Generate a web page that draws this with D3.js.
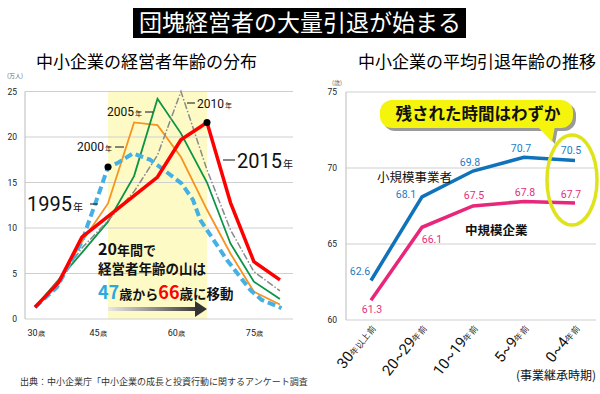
<!DOCTYPE html>
<html>
<head>
<meta charset="utf-8">
<script src="https://cdn.jsdelivr.net/npm/d3@7"></script>
<style>
body { margin: 0; background: #fff; }
svg { display: block; font-family: "Noto Sans CJK JP", "Noto Sans", sans-serif; }
</style>
</head>
<body>
<svg width="600" height="394"></svg>
<script>
// left chart: number of managers (万人) by age, [age, value]
const ageTicks = [30, 45, 60, 75]
const countTicks = [0, 5, 10, 15, 20, 25]
const dist1995 = [[33,1.3],[37.2,3.5],[42,8.5],[43.2,10.5],[45.5,14.2],[47,16.7],[48.7,17.1],[51.8,18.2],[55.1,17.5],[57,16.7],[61.1,14.9],[63.3,13.1],[64.7,10.9],[69.8,6.5],[74.3,3.2],[76.5,2.1],[80.3,1.2]]
const dist2000 = [[33,1.3],[37.5,4.0],[42,8.5],[47,12.7],[52,21.6],[56.5,21.3],[61,17.8],[66,12.0],[70.5,7.2],[75,3.0],[80,1.6]]
const dist2005 = [[33,1.3],[37.5,4.3],[42,7.3],[47,10.7],[52,15.7],[56.5,24.2],[61,20.4],[66,15.0],[70.5,8.3],[75,4.1],[80,2.2]]
const dist2010 = [[33,1.3],[37.5,4.2],[42,7.8],[47,10.8],[52,14.0],[56.5,18.0],[61,25.0],[66,16.4],[70.5,9.8],[75,5.2],[80,3.1]]
const dist2015 = [[33,1.3],[37.5,4.0],[42,9.0],[56.5,15.6],[61,19.7],[66,21.6],[70.5,12.8],[75,6.3],[80,4.3]]
const peakAges = [47, 66]

// right chart: average retirement age by period of succession
const periods = ["30年以上前", "20~29年前", "10~19年前", "5~9年前", "0~4年前"]
const retireTicks = [60, 65, 70, 75]
const smallBiz = [62.6, 68.1, 69.8, 70.7, 70.5]
const midBiz = [61.3, 66.1, 67.5, 67.8, 67.7]

var svg = d3.select('svg')

// title
svg.append('rect').attr('x', 133).attr('y', 8).attr('width', 333).attr('height', 30).attr('fill', '#000')
svg.append('text').attr('x', 300).attr('y', 31).attr('text-anchor', 'middle')
  .attr('fill', '#fff').attr('font-size', 23).text('団塊経営者の大量引退が始まる')

svg.append('text').attr('x', 36).attr('y', 68).attr('font-size', 17).text('中小企業の経営者年齢の分布')
svg.append('text').attr('x', 358).attr('y', 68).attr('font-size', 17).text('中小企業の平均引退年齢の推移')

// ---------- left chart ----------
const x = d3.scaleLinear().domain([47, 66]).range([108, 207])
const y = d3.scaleLinear().domain([0, 25]).range([319, 91.5])
const left = svg.append('g')

left.append('rect')
  .attr('x', x(47)).attr('y', y(25))
  .attr('width', x(66) - x(47)).attr('height', y(0) - y(25))
  .attr('fill', '#fdfac6')

left.selectAll('.grid').data(countTicks).enter()
  .append('line')
  .attr('x1', 25).attr('x2', 293)
  .attr('y1', d => y(d)).attr('y2', d => y(d))
  .attr('stroke', '#cfcfcf').attr('stroke-width', 1)

left.append('line').attr('x1', 25).attr('x2', 25).attr('y1', y(25)).attr('y2', y(0))
  .attr('stroke', '#bbb')

const yAxis = left.append('g').attr('transform', 'translate(25,0)')
  .call(d3.axisLeft(y).tickValues(countTicks).tickSize(0).tickPadding(8))
yAxis.select('.domain').remove()
yAxis.selectAll('text').attr('font-size', 8.5).attr('fill', '#222').attr('font-family', 'Roboto, "Noto Sans", sans-serif')

const xAxis = left.append('g').attr('transform', 'translate(0,319)')
  .call(d3.axisBottom(x).tickValues(ageTicks).tickSize(0).tickPadding(10).tickFormat(''))
xAxis.select('.domain').remove()
xAxis.selectAll('.tick text').each(function (d, i) {
  const t = d3.select(this)
  if (i === 0) t.attr('text-anchor', 'start').attr('x', 27 - x(30))
  t.append('tspan').attr('font-size', 9).attr('font-family', 'Roboto, sans-serif').text(d)
  t.append('tspan').attr('font-size', 7).text('歳')
}).attr('fill', '#222')

left.append('text').attr('x', 7).attr('y', 78).attr('font-size', 6).attr('fill', '#666').text('(万人)')

const line = d3.line().x(d => x(d[0])).y(d => y(d[1]))

left.append('path').datum(dist2000).attr('d', line)
  .attr('fill', 'none').attr('stroke', '#f7931e').attr('stroke-width', 1.8)
left.append('path').datum(dist2005).attr('d', line)
  .attr('fill', 'none').attr('stroke', '#0b9444').attr('stroke-width', 1.8)
left.append('path').datum(dist2010).attr('d', line)
  .attr('fill', 'none').attr('stroke', '#8a8a8a').attr('stroke-width', 1.5)
  .attr('stroke-dasharray', '7,2,1.5,2')
left.append('path').datum(dist1995).attr('d', line)
  .attr('fill', 'none').attr('stroke', '#45b0e4').attr('stroke-width', 4)
  .attr('stroke-dasharray', '8,4').attr('stroke-linejoin', 'round')
left.append('path').datum(dist2015).attr('d', line)
  .attr('fill', 'none').attr('stroke', '#ff0000').attr('stroke-width', 3.5)
  .attr('stroke-linejoin', 'round')

const peaks = [dist1995.find(d => d[0] === peakAges[0]), dist2015.find(d => d[0] === peakAges[1])]
left.selectAll('.peak').data(peaks).enter()
  .append('circle')
  .attr('cx', d => x(d[0])).attr('cy', d => y(d[1])).attr('r', 3.5)
  .attr('fill', '#000')

// year labels with leader lines
const yearLabel = (tx, ty, year, big, lx1, lx2, ly) => {
  const t = left.append('text').attr('x', tx).attr('y', ty).attr('fill', '#111')
  t.append('tspan').attr('font-size', big ? 20 : 12).attr('font-family', 'Roboto, "Noto Sans", sans-serif').text(year)
  t.append('tspan').attr('font-size', big ? 10 : 7).attr('dx', 1).text('年')
  left.append('line').attr('x1', lx1).attr('x2', lx2).attr('y1', ly).attr('y2', ly)
    .attr('stroke', '#111').attr('stroke-width', 1)
}
yearLabel(27, 211, '1995', true, 90, 98, 204)
yearLabel(77, 151, '2000', false, 115, 124, 147)
yearLabel(107, 116, '2005', false, 145, 153, 112)
yearLabel(197, 108, '2010', false, 187, 195, 103)
yearLabel(237, 168, '2015', true, 223, 235, 160)

// annotation
const note = left.append('text').attr('font-weight', 'bold').attr('fill', '#111')
note.append('tspan').attr('x', 98).attr('y', 255).attr('font-size', 16).text('20')
note.append('tspan').attr('font-size', 13).text('年間で')
left.append('text').attr('x', 98).attr('y', 274).attr('font-size', 13.5).attr('font-weight', 'bold')
  .attr('fill', '#111').text('経営者年齢の山は')
const note3 = left.append('text').attr('x', 98).attr('y', 299).attr('font-weight', 'bold').attr('fill', '#111')
note3.append('tspan').attr('font-size', 18).attr('fill', '#29a9e0').text('47')
note3.append('tspan').attr('font-size', 13).text('歳から')
note3.append('tspan').attr('font-size', 18).attr('fill', '#ff0000').text('66')
note3.append('tspan').attr('font-size', 13.5).text('歳に移動')

const defs = svg.append('defs')
const grad = defs.append('linearGradient').attr('id', 'arrowGrad')
grad.append('stop').attr('offset', '0%').attr('stop-color', '#e8e8e8')
grad.append('stop').attr('offset', '100%').attr('stop-color', '#333')
left.append('rect').attr('x', x(47)).attr('y', 307).attr('width', 92).attr('height', 4)
  .attr('fill', 'url(#arrowGrad)')
left.append('path').attr('d', `M${x(66) - 12},301 L${x(66)},309 L${x(66) - 12},317 Z`).attr('fill', '#333')

// ---------- right chart ----------
const xr = d3.scalePoint().domain(periods).range([371, 575])
const yr = d3.scaleLinear().domain([60, 75]).range([320, 92])
const right = svg.append('g')

right.selectAll('.grid').data(retireTicks).enter()
  .append('line')
  .attr('x1', 346).attr('x2', 596)
  .attr('y1', d => yr(d)).attr('y2', d => yr(d))
  .attr('stroke', '#cfcfcf')
right.append('line').attr('x1', 346).attr('x2', 346).attr('y1', yr(75)).attr('y2', yr(60))
  .attr('stroke', '#bbb')

const yrAxis = right.append('g').attr('transform', 'translate(346,0)')
  .call(d3.axisLeft(yr).tickValues(retireTicks).tickSize(0).tickPadding(9))
yrAxis.select('.domain').remove()
yrAxis.selectAll('text').attr('font-size', 8.5).attr('fill', '#222').attr('font-family', 'Roboto, "Noto Sans", sans-serif')
right.append('text').attr('x', 332).attr('y', 85).attr('font-size', 6).attr('fill', '#666').text('(歳)')

const xrAxis = right.append('g').attr('transform', 'translate(0,320)')
  .call(d3.axisBottom(xr).tickSize(0).tickFormat(''))
xrAxis.select('.domain').remove()
xrAxis.selectAll('.tick text').each(function (d) {
  const m = d.match(/^([\d~]+)(.*)$/)
  const t = d3.select(this)
    .attr('text-anchor', 'end').attr('x', 5).attr('y', 8).attr('dy', 0)
    .attr('transform', 'rotate(-52,5,8)').attr('fill', '#111')
  t.append('tspan').attr('font-size', 15).attr('font-family', 'Roboto, "Noto Sans", sans-serif').text(m[1])
  t.append('tspan').attr('font-size', 8.5).text(m[2])
})

const rline = d3.line().x((d, i) => xr(periods[i])).y(d => yr(d))
right.append('path').datum(smallBiz).attr('d', rline)
  .attr('fill', 'none').attr('stroke', '#0f72ba').attr('stroke-width', 3.5)
right.append('path').datum(midBiz).attr('d', rline)
  .attr('fill', 'none').attr('stroke', '#e8267a').attr('stroke-width', 3.5)

const blueOff = [[-11, -5], [-16, 1], [-3, -5], [-3, -5], [-4, -6]]
const pinkOff = [[1, 13], [10, 16], [1, -7], [1, -5], [-4, -5]]
right.selectAll('.sv').data(smallBiz).enter()
  .append('text')
  .attr('x', (d, i) => xr(periods[i]) + blueOff[i][0])
  .attr('y', (d, i) => yr(d) + blueOff[i][1])
  .attr('text-anchor', 'middle').attr('font-size', 10.5).attr('fill', '#1a7cc4')
  .attr('font-family', 'Roboto, "Noto Sans", sans-serif')
  .text(d => d.toFixed(1))
right.selectAll('.mv').data(midBiz).enter()
  .append('text')
  .attr('x', (d, i) => xr(periods[i]) + pinkOff[i][0])
  .attr('y', (d, i) => yr(d) + pinkOff[i][1])
  .attr('text-anchor', 'middle').attr('font-size', 10.5).attr('fill', '#e3307c')
  .attr('font-family', 'Roboto, "Noto Sans", sans-serif')
  .text(d => d.toFixed(1))

right.append('text').attr('x', 377).attr('y', 182).attr('font-size', 12.5).attr('fill', '#111').text('小規模事業者')
right.append('text').attr('x', 465).attr('y', 235).attr('font-size', 12.5).attr('font-weight', 'bold').attr('fill', '#111').text('中規模企業')

// highlight ellipse and callout
right.append('ellipse').attr('cx', 572).attr('cy', 180).attr('rx', 25).attr('ry', 45)
  .attr('fill', 'none').attr('stroke', '#dfe31a').attr('stroke-width', 3.5)
right.append('rect').attr('x', 383).attr('y', 103).attr('width', 193).attr('height', 28).attr('rx', 12)
  .attr('fill', '#9a9a9a')
right.append('path').attr('d', 'M540,128 L558,128 L555,144 Z').attr('fill', '#9a9a9a')
right.append('rect').attr('x', 380).attr('y', 100).attr('width', 193).attr('height', 28).attr('rx', 12)
  .attr('fill', '#f4f40c')
right.append('path').attr('d', 'M537,126 L555,126 L552,142 Z').attr('fill', '#f4f40c')
right.append('text').attr('x', 478).attr('y', 120).attr('text-anchor', 'middle')
  .attr('font-size', 16.5).attr('font-weight', 'bold').attr('fill', '#111').text('残された時間はわずか')

right.append('text').attr('x', 596).attr('y', 380).attr('text-anchor', 'end')
  .attr('font-size', 12).attr('fill', '#111').text('(事業継承時期)')

// source
svg.append('text').attr('x', 20).attr('y', 385).attr('font-size', 9).attr('fill', '#333')
  .text('出典：中小企業庁「中小企業の成長と投資行動に関するアンケート調査')
</script>
</body>
</html>
